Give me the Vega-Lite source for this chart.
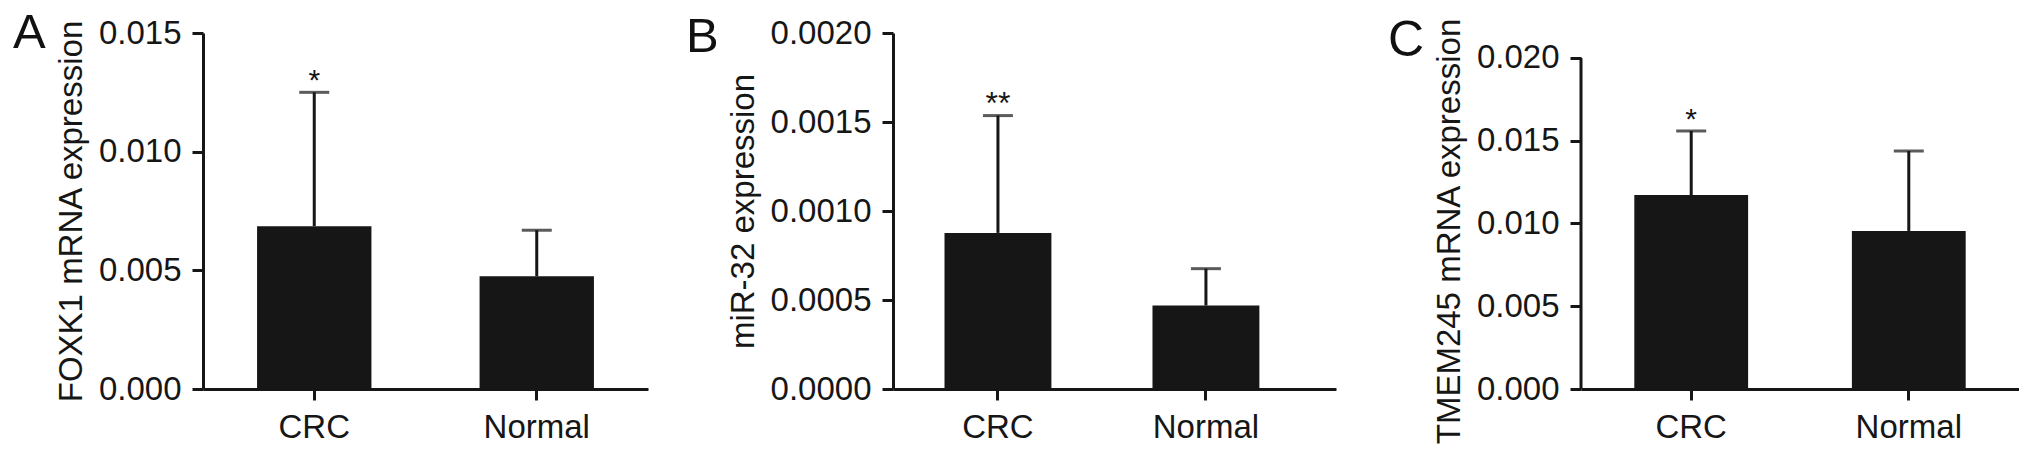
{
  "$schema": "https://vega.github.io/schema/vega-lite/v6.json",
  "background": "white",
  "padding": {"left": 13, "top": 9, "right": 0, "bottom": 0},
  "bounds": "flush",
  "spacing": 245,
  "config": {
    "view": {"stroke": null},
    "font": "Liberation Sans",
    "axis": {
      "grid": false,
      "domainColor": "#161616",
      "domainWidth": 3,
      "tickColor": "#161616",
      "tickWidth": 3,
      "labelFont": "Liberation Sans",
      "labelFontSize": 33,
      "labelColor": "#161616",
      "titleFont": "Liberation Sans",
      "titleFontSize": 33,
      "titleFontWeight": "normal",
      "titleColor": "#161616"
    },
    "axisX": {"tickSize": 11, "labelPadding": 11, "labelAngle": 0, "title": null},
    "axisY": {"tickSize": 11, "labelPadding": 11, "titlePadding": 10}
  },
  "datasets": {
    "foxk1": [
      {"group": "CRC", "mean": 0.00686, "upper": 0.0125, "sig": "*"},
      {"group": "Normal", "mean": 0.00475, "upper": 0.00669, "sig": ""}
    ],
    "mir32": [
      {"group": "CRC", "mean": 0.000877, "upper": 0.001536, "sig": "**"},
      {"group": "Normal", "mean": 0.000469, "upper": 0.000676, "sig": ""}
    ],
    "tmem245": [
      {"group": "CRC", "mean": 0.01172, "upper": 0.01559, "sig": "*"},
      {"group": "Normal", "mean": 0.00955, "upper": 0.01438, "sig": ""}
    ],
    "tmemaxis": [
      {"lo": 0, "hi": 0.02}
    ]
  },
  "hconcat": [
    {
      "width": 445,
      "height": 356,
      "title": {"text": "A", "anchor": "start", "frame": "group", "orient": "top", "font": "Liberation Sans", "fontSize": 49, "fontWeight": "normal", "color": "#111111", "baseline": "top", "offset": 0, "dx": -190, "dy": 41},
      "data": {"name": "foxk1"},
      "encoding": {
        "x": {"field": "group", "type": "nominal", "sort": ["CRC", "Normal"], "scale": {"paddingInner": 0.486, "paddingOuter": 0.243}}
      },
      "layer": [
        {
          "mark": {"type": "bar", "color": "#161616"},
          "encoding": {
            "y": {"field": "mean", "type": "quantitative", "title": "FOXK1 mRNA expression", "scale": {"domain": [0, 0.015], "nice": false}, "axis": {"values": [0, 0.005, 0.01, 0.015], "format": ".3f"}}
          }
        },
        {
          "mark": {"type": "rule", "color": "#161616", "strokeWidth": 3},
          "encoding": {
            "y": {"field": "mean", "type": "quantitative", "title": "FOXK1 mRNA expression"},
            "y2": {"field": "upper"}
          }
        },
        {
          "mark": {"type": "tick", "orient": "horizontal", "color": "#161616", "thickness": 3, "size": 30},
          "encoding": {"y": {"field": "upper", "type": "quantitative", "title": "FOXK1 mRNA expression"}}
        },
        {
          "mark": {"type": "text", "color": "#161616", "fontSize": 30, "baseline": "alphabetic", "dy": -2, "font": "Liberation Sans"},
          "encoding": {"y": {"field": "upper", "type": "quantitative", "title": "FOXK1 mRNA expression"}, "text": {"field": "sig"}}
        }
      ]
    },
    {
      "width": 443,
      "height": 356,
      "title": {"text": "B", "anchor": "start", "frame": "group", "orient": "top", "font": "Liberation Sans", "fontSize": 49, "fontWeight": "normal", "color": "#111111", "baseline": "top", "offset": 0, "dx": -207, "dy": 45},
      "data": {"name": "mir32"},
      "encoding": {
        "x": {"field": "group", "type": "nominal", "sort": ["CRC", "Normal"], "scale": {"paddingInner": 0.486, "paddingOuter": 0.308, "align": 0.402}}
      },
      "layer": [
        {
          "mark": {"type": "bar", "color": "#161616"},
          "encoding": {
            "y": {"field": "mean", "type": "quantitative", "title": "miR-32 expression", "scale": {"domain": [0, 0.002], "nice": false}, "axis": {"values": [0, 0.0005, 0.001, 0.0015, 0.002], "format": ".4f"}}
          }
        },
        {
          "mark": {"type": "rule", "color": "#161616", "strokeWidth": 3},
          "encoding": {
            "y": {"field": "mean", "type": "quantitative", "title": "miR-32 expression"},
            "y2": {"field": "upper"}
          }
        },
        {
          "mark": {"type": "tick", "orient": "horizontal", "color": "#161616", "thickness": 3, "size": 30},
          "encoding": {"y": {"field": "upper", "type": "quantitative", "title": "miR-32 expression"}}
        },
        {
          "mark": {"type": "text", "color": "#161616", "fontSize": 32, "baseline": "alphabetic", "dy": -2, "font": "Liberation Sans"},
          "encoding": {"y": {"field": "upper", "type": "quantitative", "title": "miR-32 expression"}, "text": {"field": "sig"}}
        }
      ]
    },
    {
      "width": 438,
      "height": 356,
      "title": {"text": "C", "anchor": "start", "frame": "group", "orient": "top", "font": "Liberation Sans", "fontSize": 50, "fontWeight": "normal", "color": "#111111", "baseline": "top", "offset": 0, "dx": -193, "dy": 49},
      "resolve": {"scale": {"x": "independent"}},
      "layer": [
        {
          "data": {"name": "tmem245"},
          "encoding": {
            "x": {"field": "group", "type": "nominal", "sort": ["CRC", "Normal"], "scale": {"paddingInner": 0.477, "paddingOuter": 0.245}}
          },
          "layer": [
            {
              "mark": {"type": "bar", "color": "#161616"},
              "encoding": {
                "y": {"field": "mean", "type": "quantitative", "title": "TMEM245 mRNA expression", "scale": {"domain": [0, 0.02151], "nice": false}, "axis": {"values": [0, 0.005, 0.01, 0.015, 0.02], "format": ".3f", "domain": false, "titleY": 198}}
              }
            },
            {
              "mark": {"type": "rule", "color": "#161616", "strokeWidth": 3},
              "encoding": {
                "y": {"field": "mean", "type": "quantitative", "title": "TMEM245 mRNA expression"},
                "y2": {"field": "upper"}
              }
            },
            {
              "mark": {"type": "tick", "orient": "horizontal", "color": "#161616", "thickness": 3, "size": 30},
              "encoding": {"y": {"field": "upper", "type": "quantitative", "title": "TMEM245 mRNA expression"}}
            },
            {
              "mark": {"type": "text", "color": "#161616", "fontSize": 30, "baseline": "alphabetic", "dy": -2, "font": "Liberation Sans"},
              "encoding": {"y": {"field": "upper", "type": "quantitative", "title": "TMEM245 mRNA expression"}, "text": {"field": "sig"}}
            }
          ]
        },
        {
          "data": {"name": "tmemaxis"},
          "mark": {"type": "rule", "color": "#161616", "strokeWidth": 3},
          "encoding": {
            "x": {"datum": 0, "type": "quantitative", "scale": {"domain": [0, 1]}, "axis": null},
            "y": {"field": "lo", "type": "quantitative", "title": "TMEM245 mRNA expression"},
            "y2": {"field": "hi"}
          }
        }
      ]
    }
  ]
}
